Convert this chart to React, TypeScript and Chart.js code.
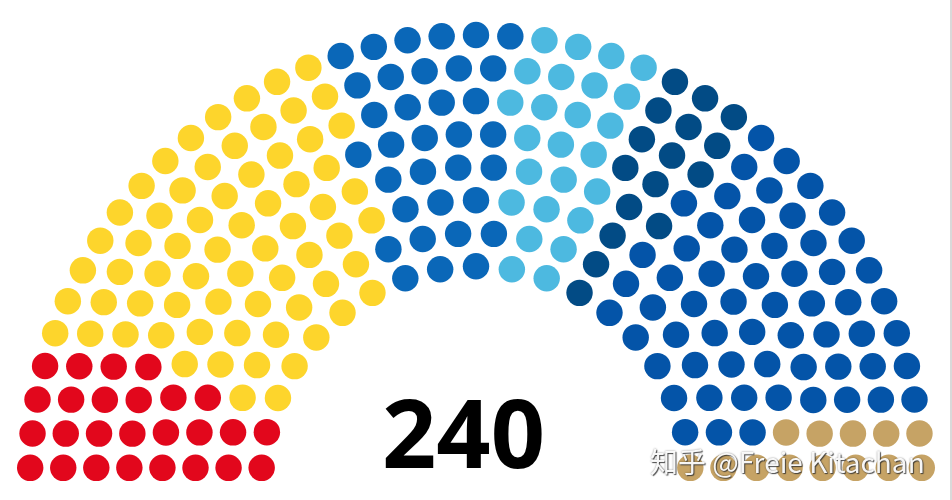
import React, { useEffect, useRef } from "react";
import { Chart, registerables } from "chart.js";

Chart.register(...registerables);

// Bulgarian National Assembly, November 2021 — seats by party (left to right)
const parties = [
  "БСП за България",
  "Продължаваме промяната",
  "ДПС",
  "Има такъв народ",
  "Демократична България",
  "ГЕРБ–СДС",
  "Възраждане",
];
const seats = [26, 67, 34, 25, 16, 59, 13];
const colors = ["#E2071C", "#FDD52C", "#0A67B8", "#4DB9E0", "#024B85", "#0454A8", "#C6A365"];
const totalLabel = "240";
const watermark = "知乎 @Freie Kitachan";

const W = 952;
const H = 500;
const CX = 476;
const CY = 481;
const S = 264.3;

type Seat = { a: number; x: number; y: number };

// Hemicycle layout (same scheme as the Wikipedia parliament diagram tool)
function hemicycle(total: number) {
  const rowCap = (n: number, i: number) => Math.PI / (2 * Math.asin(2 / (3 * n + 4 * i - 2)));
  const capacity = (n: number) => {
    let c = 0;
    for (let i = 1; i <= n; i++) c += Math.floor(rowCap(n, i));
    return c;
  };
  let rows = 1;
  while (capacity(rows) < total) rows++;
  const totalCap = capacity(rows);
  const radius = 0.4 / rows;
  const pos: Seat[] = [];
  const addRow = (J: number, R: number) => {
    if (J === 1) {
      pos.push({ a: Math.PI / 2, x: 0, y: R });
      return;
    }
    const s = Math.sin(radius / R);
    for (let j = 0; j < J; j++) {
      const a = (j * (Math.PI - 2 * s)) / (J - 1) + s;
      pos.push({ a, x: R * Math.cos(a), y: R * Math.sin(a) });
    }
  };
  for (let i = 1; i < rows; i++) {
    const J = Math.floor((total / totalCap) * rowCap(rows, i));
    const R = (3 * rows + 4 * i - 2) / (4 * rows);
    addRow(J, R);
  }
  addRow(total - pos.length, (7 * rows - 2) / (4 * rows));
  pos.sort((p, q) => q.a - p.a || q.x - p.x || q.y - p.y);
  return { pos, radius };
}

export default function App() {
  const ref = useRef<HTMLCanvasElement | null>(null);

  useEffect(() => {
    if (!ref.current) return;
    const total = seats.reduce((a, b) => a + b, 0);
    const { pos, radius } = hemicycle(total);
    let idx = 0;
    const datasets = parties.map((name, p) => {
      const data = pos.slice(idx, idx + seats[p]).map((s) => ({ x: s.x, y: s.y }));
      idx += seats[p];
      return {
        label: name,
        data,
        backgroundColor: colors[p],
        borderWidth: 0,
        pointRadius: radius * S,
        pointHoverRadius: radius * S,
        pointBorderWidth: 0,
        clip: false as any,
      };
    });
    const chart = new Chart(ref.current, {
      type: "scatter",
      data: { datasets },
      options: {
        animation: false,
        responsive: true,
        maintainAspectRatio: false,
        layout: { padding: 0, autoPadding: false },
        scales: {
          x: { type: "linear", display: false, min: -CX / S, max: (W - CX) / S },
          y: { type: "linear", display: false, min: -(H - CY) / S, max: CY / S },
        },
        plugins: {
          legend: { display: false },
          tooltip: {
            callbacks: {
              label: (ctx: any) => `${ctx.dataset.label}: ${seats[ctx.datasetIndex]}`,
            },
          },
        },
      },
    });
    return () => chart.destroy();
  }, []);

  return (
    <div style={{ position: "absolute", left: 0, top: 0, width: W, height: H, background: "#fff", overflow: "hidden" }}>
      <canvas ref={ref} style={{ position: "absolute", left: 0, top: 0, width: W, height: H }} />
      <div
        style={{
          position: "absolute",
          left: 463.5 - 150,
          top: 384,
          width: 300,
          textAlign: "center",
          fontFamily: "'Open Sans', 'Noto Sans', sans-serif",
          fontWeight: 700,
          fontSize: 95,
          lineHeight: "95px",
          color: "#000",
          pointerEvents: "none",
        }}
      >
        {totalLabel}
      </div>
      <div
        style={{
          position: "absolute",
          left: 650,
          top: 447,
          whiteSpace: "nowrap",
          fontFamily: "'Noto Sans CJK SC', 'Noto Sans', sans-serif",
          fontSize: 28,
          lineHeight: "28px",
          color: "rgba(255,255,255,0.95)",
          textShadow: "1px 1px 1px rgba(50,50,50,0.85), 0 0 2px rgba(0,0,0,0.45)",
          pointerEvents: "none",
        }}
      >
        {watermark}
      </div>
      <div style={{ position: "absolute", left: 950, top: 0, width: 2, height: H, background: "#d9d9d9" }} />
    </div>
  );
}
